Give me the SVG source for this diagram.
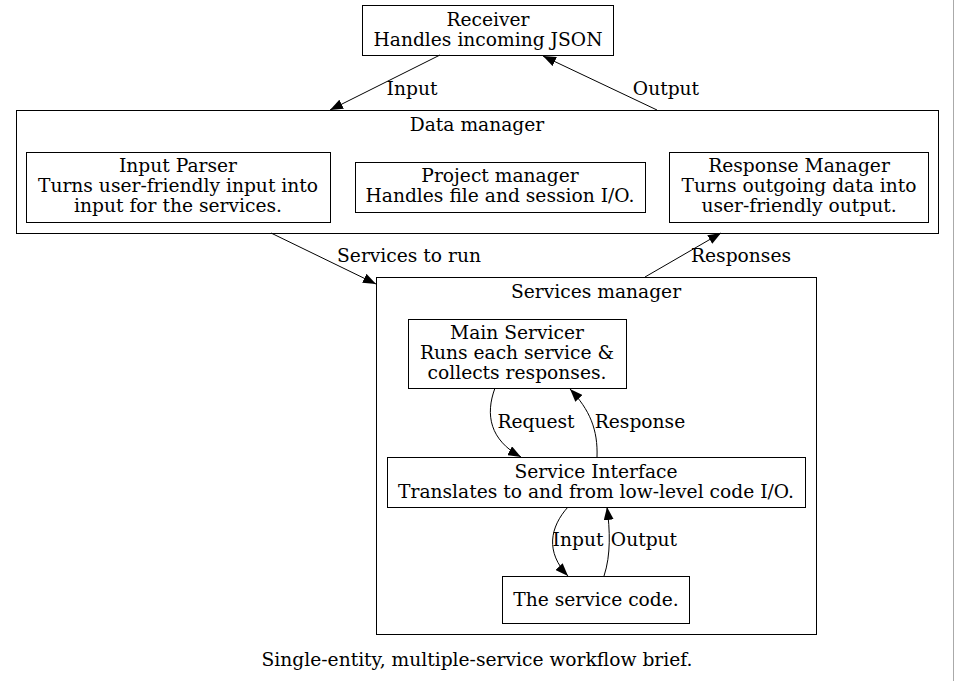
<svg xmlns="http://www.w3.org/2000/svg" width="955" height="681" viewBox="0 0 955 681">
<style>
text{font-size:18.67px;text-anchor:middle;fill:#000}
.box{fill:none;stroke:#000;stroke-width:1}
.edge{fill:none;stroke:#000;stroke-width:1}
</style>
<defs>
<marker id="ah" viewBox="0 0 13 10" refX="13" refY="5" markerWidth="13" markerHeight="10" markerUnits="userSpaceOnUse" orient="auto">
<path d="M0,0 L13,5 L0,10 z" fill="#000"/>
</marker>
</defs>
<rect x="0" y="0" width="955" height="681" fill="#fff"/>
<line x1="953.5" y1="0" x2="953.5" y2="681" stroke="#aaa" stroke-width="1"/>
<g font-family="DejaVu Serif">
<g id="cluster_data">
<rect class="box" x="16.5" y="110.5" width="922" height="123"/>
<text x="477" y="131">Data manager</text>
</g>
<g id="cluster_services">
<rect class="box" x="376.5" y="277.5" width="440" height="357"/>
<text x="596" y="298">Services manager</text>
</g>

<g id="receiver">
<rect class="box" x="362.5" y="5.5" width="251" height="50"/>
<text x="488" y="26">Receiver</text>
<text x="488" y="46">Handles incoming JSON</text>
</g>
<g id="input_parser">
<rect class="box" x="26.5" y="152.5" width="304" height="70"/>
<text x="178" y="172">Input Parser</text>
<text x="178" y="192">Turns user-friendly input into</text>
<text x="178" y="212">input for the services.</text>
</g>
<g id="project_manager">
<rect class="box" x="355.5" y="162.5" width="290" height="50"/>
<text x="500" y="182">Project manager</text>
<text x="500" y="202">Handles file and session I/O.</text>
</g>
<g id="response_manager">
<rect class="box" x="669.5" y="152.5" width="259" height="70"/>
<text x="799" y="172">Response Manager</text>
<text x="799" y="192">Turns outgoing data into</text>
<text x="799" y="212">user-friendly output.</text>
</g>
<g id="main_servicer">
<rect class="box" x="408.5" y="319.5" width="218" height="69"/>
<text x="517" y="338.5">Main Servicer</text>
<text x="517" y="358.5">Runs each service &amp;</text>
<text x="517" y="378.5">collects responses.</text>
</g>
<g id="service_interface">
<rect class="box" x="387.5" y="457.5" width="418" height="50"/>
<text x="596" y="477.5">Service Interface</text>
<text x="596" y="497.5">Translates to and from low-level code I/O.</text>
</g>
<g id="service_code">
<rect class="box" x="502.5" y="576.5" width="187" height="47"/>
<text x="596" y="605.5">The service code.</text>
</g>

<g id="edges">
<line class="edge" x1="440" y1="55" x2="330" y2="110" marker-end="url(#ah)"/>
<text x="412" y="95">Input</text>
<line class="edge" x1="657" y1="110" x2="543" y2="56" marker-end="url(#ah)"/>
<text x="666" y="95">Output</text>
<line class="edge" x1="271" y1="233" x2="376" y2="284" marker-end="url(#ah)"/>
<text x="409" y="262">Services to run</text>
<line class="edge" x1="645" y1="277" x2="721" y2="233" marker-end="url(#ah)"/>
<text x="741" y="262">Responses</text>
<path class="edge" d="M495,388 C485,415 490,440 521,457" marker-end="url(#ah)"/>
<text x="536" y="428">Request</text>
<path class="edge" d="M597,457 C598,430 590,410 570,389" marker-end="url(#ah)"/>
<text x="640" y="428">Response</text>
<path class="edge" d="M568,507 C550,527 545,552 568,576" marker-end="url(#ah)"/>
<text x="578" y="546">Input</text>
<path class="edge" d="M604,576 C611,555 610,530 607,507" marker-end="url(#ah)"/>
<text x="644" y="546">Output</text>
</g>

<text x="477" y="666">Single-entity, multiple-service workflow brief.</text>
</g>
</svg>
